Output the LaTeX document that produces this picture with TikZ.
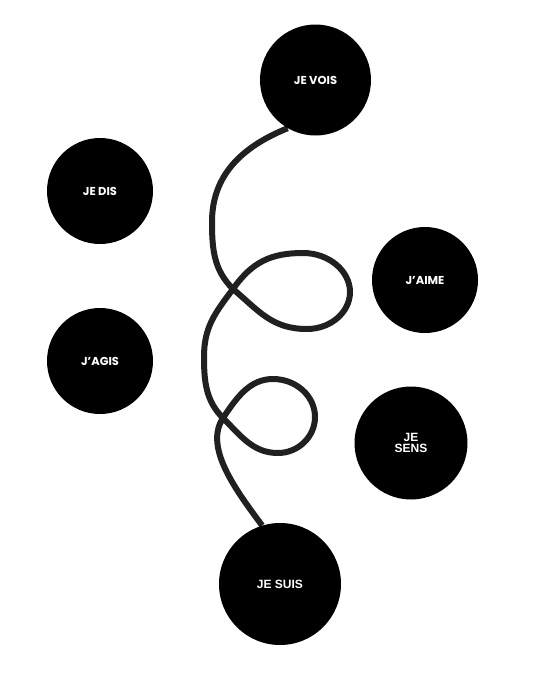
\documentclass[tikz,border=0pt]{standalone}
\usepackage{fontspec}
\setmainfont{Poppins}
\newfontfamily\plainsans{Liberation Sans}
\usetikzlibrary{backgrounds}
\definecolor{LoopGray}{RGB}{33,32,30}
\begin{document}
\begin{tikzpicture}[x=1pt,y=-1pt,
    Bubble/.style={circle,fill=black,text=white,inner sep=0pt,minimum size=#1,
      align=center,font=\bfseries\fontsize{11.5}{11}\selectfont},
    PlainBubble/.style={Bubble=#1,font=\plainsans\bfseries\fontsize{12}{11}\selectfont},
    LoopLine/.style={line width=6pt,LoopGray}]
    \useasboundingbox (0,0) rectangle (552,673);
    \node [Bubble=111pt]      (JeVois) at (315.5,80) {JE VOIS};
    \node [Bubble=106pt]      (JeDis)  at (100,191)  {JE DIS};
    \node [Bubble=106pt]      (JAgis)  at (100,361)  {J'AGIS};
    \node [Bubble=106pt]      (JAime)  at (425,280)  {J'AIME};
    \node [PlainBubble=113pt] (JeSens) at (411,443)  {JE\\SENS};
    \node [PlainBubble=122pt] (JeSuis) at (280,584)  {JE SUIS};
    % the looping line, behind the bubbles
    \begin{pgfonlayer}{background}
      \draw [LoopLine] (JeVois.240) .. controls (236,149) and (212,180) .. (212,222)
        .. controls (212,250) and (214,270) .. (233,289)
        .. controls (259,311) and (272,329) .. (307,329)
        .. controls (331,329) and (350,312) .. (350,292)
        .. controls (350,271) and (329,253) .. (303,253)
        .. controls (271,253) and (252,262) .. (233,289)
        .. controls (215,313) and (204,327) .. (204,357)
        .. controls (204,382) and (206,401) .. (223,418)
        .. controls (241,436) and (253,453) .. (278,453)
        .. controls (298,453) and (315,437) .. (315,417)
        .. controls (315,396) and (296,379) .. (273,379)
        .. controls (250,379) and (237,397) .. (223,418)
        .. controls (204,447) and (235,489) .. (JeSuis.107);
    \end{pgfonlayer}
\end{tikzpicture}
\end{document}
